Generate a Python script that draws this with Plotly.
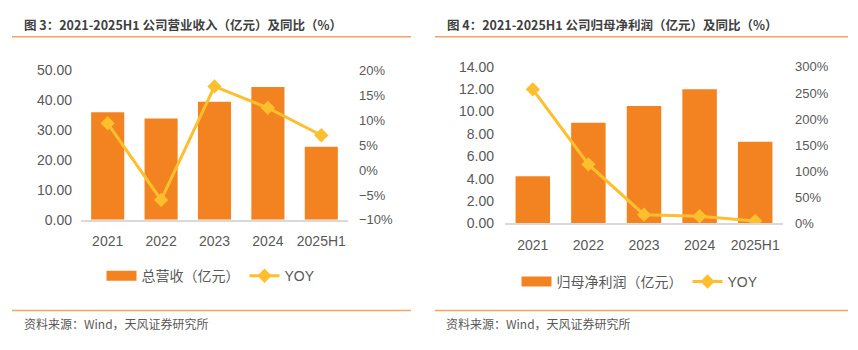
import plotly.graph_objects as go

# ---------------- data ----------------
categories = ["2021", "2022", "2023", "2024", "2025H1"]
revenue = [36.0, 33.9, 39.5, 44.5, 24.5]          # 总营收（亿元）
revenue_yoy = [9.4, -6.0, 16.8, 12.5, 7.0]        # YOY %
profit = [4.2, 9.0, 10.5, 12.0, 7.3]              # 归母净利润（亿元）
profit_yoy = [257, 113, 16.5, 13.5, 4.4]          # YOY %

left_title = "图 3：2021-2025H1 公司营业收入（亿元）及同比（%）"
right_title = "图 4：2021-2025H1 公司归母净利润（亿元）及同比（%）"
source_text = "资料来源：Wind，天风证券研究所"

BAR = "#F38320"
LINE = "#FDBF2D"
GREY = "#595959"
RULE = "#F4A460"
W, H = 858, 350
TICKFONT = dict(family="Liberation Sans, Arial, sans-serif", size=14, color=GREY)
TICKFONT_R = dict(family="Liberation Sans, Arial, sans-serif", size=13, color=GREY)
LEGFONT = dict(family="Liberation Sans, Noto Sans CJK SC, sans-serif", size=14, color=GREY)

def px(x):
    return x / W

def py(y):
    return 1 - y / H

fig = go.Figure()

# ----- left chart -----
fig.add_trace(go.Bar(x=categories, y=revenue, marker=dict(color=BAR, line=dict(width=0)),
                     xaxis="x", yaxis="y", showlegend=False, width=0.62))
fig.add_trace(go.Scatter(x=[None], y=[None], mode="lines", line=dict(color=BAR, width=10),
                         name="总营收（亿元）", xaxis="x", yaxis="y", legend="legend"))
fig.add_trace(go.Scatter(x=categories, y=revenue_yoy, mode="lines+markers", name="YOY",
                         line=dict(color=LINE, width=3),
                         marker=dict(symbol="diamond", size=11, color=LINE),
                         xaxis="x", yaxis="y2", legend="legend"))

# ----- right chart -----
fig.add_trace(go.Bar(x=categories, y=profit, marker=dict(color=BAR, line=dict(width=0)),
                     xaxis="x3", yaxis="y3", showlegend=False, width=0.62))
fig.add_trace(go.Scatter(x=[None], y=[None], mode="lines", line=dict(color=BAR, width=10),
                         name="归母净利润（亿元）", xaxis="x3", yaxis="y3", legend="legend2"))
fig.add_trace(go.Scatter(x=categories, y=profit_yoy, mode="lines+markers", name="YOY",
                         line=dict(color=LINE, width=3),
                         marker=dict(symbol="diamond", size=11, color=LINE),
                         xaxis="x3", yaxis="y4", legend="legend2"))

xcommon = dict(type="category", showgrid=False, showline=True, linecolor="#D9D9D9", linewidth=1.5,
               ticks="", tickfont=TICKFONT, ticklabelstandoff=8, zeroline=False, fixedrange=True)
ycommon = dict(showgrid=False, showline=False, zeroline=False, ticks="", fixedrange=True)

fig.update_layout(
    width=W, height=H,
    margin=dict(l=0, r=0, t=0, b=0),
    paper_bgcolor="white", plot_bgcolor="white",
    bargap=0.38,
    xaxis=dict(domain=[px(81), px(348)], anchor="y", **xcommon),
    yaxis=dict(domain=[py(222), py(65.5)], range=[0, 50], dtick=10, tickformat=".2f",
               tickfont=TICKFONT, ticklabelstandoff=8, **ycommon),
    yaxis2=dict(overlaying="y", side="right", anchor="x", range=[-10, 20], dtick=5,
                ticksuffix="%", tickfont=TICKFONT_R, ticklabelstandoff=10, **ycommon),
    xaxis3=dict(domain=[px(505), px(783)], anchor="y3", **xcommon),
    yaxis3=dict(domain=[py(225.6), py(61.7)], range=[0, 14], dtick=2, tickformat=".2f",
                tickfont=TICKFONT, ticklabelstandoff=10, anchor="x3", **ycommon),
    yaxis4=dict(overlaying="y3", side="right", anchor="x3", range=[0, 300], dtick=50,
                ticksuffix="%", tickfont=TICKFONT_R, ticklabelstandoff=11, **ycommon),
    legend=dict(orientation="h", x=px(211), y=py(281), xanchor="center", yanchor="middle",
                font=LEGFONT, bgcolor="rgba(0,0,0,0)", itemwidth=30),
    legend2=dict(orientation="h", x=px(640), y=py(287), xanchor="center", yanchor="middle",
                 font=LEGFONT, bgcolor="rgba(0,0,0,0)", itemwidth=30),
)

TITLEFONT = dict(family="Noto Sans CJK SC, sans-serif", size=12.5, color="#404040")
SRCFONT = dict(family="Noto Sans CJK SC, sans-serif", size=12, color=GREY)
for tx, title in [(22, left_title), (445, right_title)]:
    fig.add_annotation(text=f"<b>{title}</b>", x=px(tx), y=py(17), xref="paper", yref="paper",
                       xanchor="left", yanchor="middle", showarrow=False, font=TITLEFONT)
for tx in [22, 444]:
    fig.add_annotation(text=source_text, x=px(tx), y=py(331), xref="paper", yref="paper",
                       xanchor="left", yanchor="middle", showarrow=False, font=SRCFONT)
for x0, x1 in [(12, 411), (435, 848)]:
    for yy in [30, 317]:
        fig.add_shape(type="line", xref="paper", yref="paper", x0=px(x0), x1=px(x1),
                      y0=py(yy), y1=py(yy), line=dict(color=RULE, width=1.5))

fig.write_html("out.html")
